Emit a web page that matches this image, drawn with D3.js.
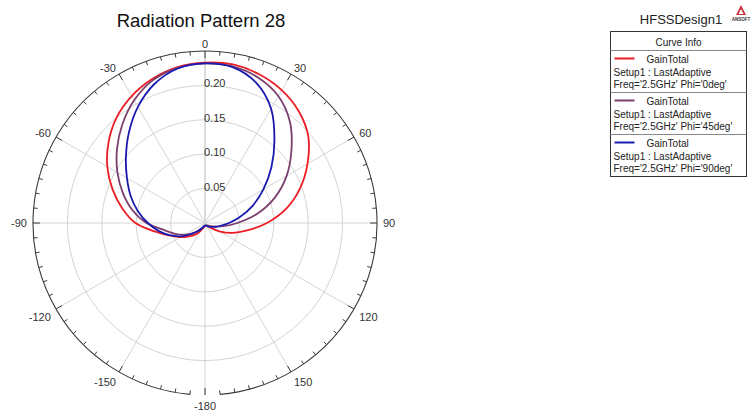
<!DOCTYPE html>
<html>
<head>
<meta charset="utf-8">
<script src="https://cdn.jsdelivr.net/npm/d3@7"></script>
<style>
  html, body { margin: 0; padding: 0; background: #fff; }
  svg { display: block; font-family: "Liberation Sans", Arial, sans-serif; }
</style>
</head>
<body>
<svg id="chart" width="751" height="413"></svg>
<script>
// Theta (deg) sampled every 10 degrees, -180 .. 180
const theta = [-180,-170,-160,-150,-140,-130,-120,-110,-100,-90,-80,-70,-60,-50,-40,-30,-20,-10,
               0,10,20,30,40,50,60,70,80,90,100,110,120,130,140,150,160,170,180];

// GainTotal, Freq = 2.5 GHz
const gainPhi0 = [0.004,0.005,0.008,0.014,0.022,0.030,0.041,0.054,0.073,0.101,0.122,0.143,0.164,0.183,0.200,0.213,0.223,0.230,
                  0.233,0.234,0.230,0.223,0.212,0.196,0.172,0.147,0.120,0.090,0.062,0.042,0.024,0.011,0.006,0.004,0.004,0.004,0.004];
const gainPhi45 = [0.004,0.005,0.007,0.009,0.014,0.024,0.034,0.046,0.060,0.085,0.107,0.127,0.147,0.167,0.187,0.206,0.221,0.229,
                   0.232,0.231,0.225,0.213,0.192,0.164,0.137,0.108,0.077,0.047,0.027,0.015,0.009,0.006,0.005,0.004,0.004,0.004,0.004];
const gainPhi90 = [0.004,0.004,0.005,0.008,0.015,0.023,0.038,0.053,0.068,0.083,0.099,0.115,0.131,0.150,0.172,0.195,0.215,0.228,
                   0.232,0.230,0.217,0.192,0.157,0.126,0.098,0.074,0.052,0.035,0.023,0.016,0.011,0.008,0.006,0.005,0.004,0.004,0.004];

const angleLabels = [0,30,60,90,120,150,-180,-150,-120,-90,-60,-30];
const ringValues = [0.05,0.10,0.15,0.20];
const ringLabels = ["0.05","0.10","0.15","0.20"];

const seriesNames = ["GainTotal","GainTotal","GainTotal"];
const seriesSetup = ["Setup1 : LastAdaptive","Setup1 : LastAdaptive","Setup1 : LastAdaptive"];
const seriesFreq = ["Freq='2.5GHz' Phi='0deg'","Freq='2.5GHz' Phi='45deg'","Freq='2.5GHz' Phi='90deg'"];
const seriesColors = ["#ec1c24","#7b3f6e","#1a1ab0"];

const svg = d3.select("#chart");
svg.append("rect").attr("width", 751).attr("height", 413).attr("fill", "#fff");

// Title
svg.append("text")
  .attr("x", 201).attr("y", 27)
  .attr("text-anchor", "middle")
  .attr("font-size", 18.5)
  .attr("fill", "#111")
  .text("Radiation Pattern 28");

// Polar frame
const cx = 205, cy = 223, R = 172;
const r = d3.scaleLinear().domain([0, 0.25]).range([0, R]);
const rad = d => d * Math.PI / 180;
const g = svg.append("g").attr("transform", `translate(${cx},${cy})`);

// Radial grid rings
g.selectAll("circle.ring").data(ringValues)
  .enter().append("circle")
  .attr("r", d => r(d))
  .attr("fill", "none")
  .attr("stroke", "#d4d4d4")
  .attr("stroke-width", 1);

// Spokes every 30 deg
g.selectAll("line.spoke").data(d3.range(0, 360, 30))
  .enter().append("line")
  .attr("x1", 0).attr("y1", 0)
  .attr("x2", d => R * Math.sin(rad(d)))
  .attr("y2", d => -R * Math.cos(rad(d)))
  .attr("stroke", d => d === 0 ? "#b8b8b8" : "#d4d4d4")
  .attr("stroke-width", 1);

// Outer boundary (open at the back)
const outer = d3.arc().innerRadius(R).outerRadius(R)
  .startAngle(rad(-175)).endAngle(rad(175));
g.append("path").attr("d", outer()).attr("fill", "none")
  .attr("stroke", "#3a3a3a").attr("stroke-width", 1.1);

// Tick marks every 5 deg, pointing inward
g.selectAll("line.tick").data(d3.range(-180, 180, 5))
  .enter().append("line")
  .attr("x1", d => R * Math.sin(rad(d)))
  .attr("y1", d => -R * Math.cos(rad(d)))
  .attr("x2", d => (R - (d % 30 === 0 ? 7 : 4)) * Math.sin(rad(d)))
  .attr("y2", d => -(R - (d % 30 === 0 ? 7 : 4)) * Math.cos(rad(d)))
  .attr("stroke", "#3a3a3a").attr("stroke-width", 1);

// Angle labels, anchored by the corner nearest the circle
const labR = 178;
g.selectAll("text.ang").data(angleLabels)
  .enter().append("text")
  .attr("x", d => labR * Math.sin(rad(d)))
  .attr("y", d => {
    const c = Math.cos(rad(d));
    const y = -labR * c;
    if (c > 0.1) return y + 3;
    if (c < -0.1) return y + 9;
    return y + 4;
  })
  .attr("text-anchor", d => {
    const s = Math.sin(rad(d));
    return s > 0.1 ? "start" : (s < -0.1 ? "end" : "middle");
  })
  .attr("font-size", 11)
  .attr("fill", "#333")
  .text(d => d);

// Radial labels along the 0 deg spoke
g.selectAll("text.rl").data(ringValues)
  .enter().append("text")
  .attr("x", -1)
  .attr("y", d => -r(d) + 2)
  .attr("font-size", 11)
  .attr("fill", "#333")
  .text((d, i) => ringLabels[i]);

// Pattern curves
const allGains = [gainPhi0, gainPhi45, gainPhi90];
const line = d3.lineRadial()
  .angle(d => rad(d[0]))
  .radius(d => r(d[1]))
  .curve(d3.curveCatmullRomClosed);

allGains.forEach((vals, i) => {
  const pts = theta.slice(0, -1).map((t, k) => [t, vals[k]]);
  g.append("path")
    .attr("d", line(pts))
    .attr("fill", "none")
    .attr("stroke", seriesColors[i])
    .attr("stroke-width", 1.8);
});

// Legend header
svg.append("text").attr("x", 681).attr("y", 24)
  .attr("text-anchor", "middle").attr("font-size", 13).attr("fill", "#222")
  .text("HFSSDesign1");

// Small logo
const logo = svg.append("g").attr("transform", "translate(741,13)");
logo.append("path").attr("d", "M0,-8 L5,2 L-5,2 Z").attr("fill", "#c8323c");
logo.append("path").attr("d", "M0,-4 L2.5,1 L-2.5,1 Z").attr("fill", "#fff");
logo.append("text").attr("x", 0).attr("y", 8).attr("text-anchor", "middle")
  .attr("font-size", 4.5).attr("font-weight", "bold").attr("fill", "#333").text("ANSOFT");

// Legend box
const lx = 610.5, ly = 31.5, lw = 136, headH = 19, entH = 42;
svg.append("rect").attr("x", lx).attr("y", ly).attr("width", lw)
  .attr("height", headH + entH * 3).attr("fill", "#fff")
  .attr("stroke", "#333").attr("stroke-width", 1);
svg.append("text").attr("x", lx + lw / 2).attr("y", ly + 14)
  .attr("text-anchor", "middle").attr("font-size", 10).attr("fill", "#222")
  .text("Curve Info");

seriesNames.forEach((name, i) => {
  const y0 = ly + headH + i * entH;
  svg.append("line").attr("x1", lx).attr("x2", lx + lw)
    .attr("y1", y0).attr("y2", y0).attr("stroke", "#888").attr("stroke-width", 1);
  svg.append("line").attr("x1", lx + 4).attr("x2", lx + 24)
    .attr("y1", y0 + 8).attr("y2", y0 + 8)
    .attr("stroke", seriesColors[i]).attr("stroke-width", 2);
  svg.append("text").attr("x", lx + 36).attr("y", y0 + 12)
    .attr("font-size", 10).attr("fill", "#222").text(name);
  svg.append("text").attr("x", lx + 3).attr("y", y0 + 25)
    .attr("font-size", 10).attr("fill", "#222").text(seriesSetup[i]);
  svg.append("text").attr("x", lx + 3).attr("y", y0 + 37)
    .attr("font-size", 10).attr("fill", "#222").text(seriesFreq[i]);
});
</script>
</body>
</html>
